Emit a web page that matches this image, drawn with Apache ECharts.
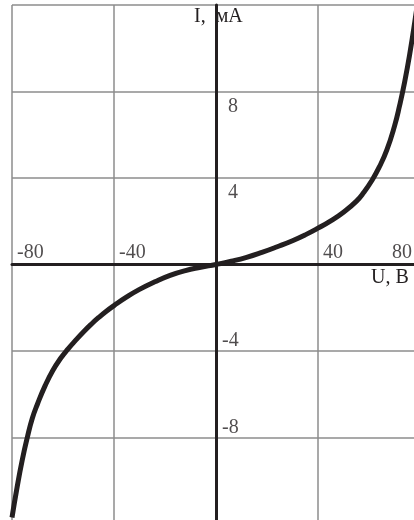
<!DOCTYPE html>
<html>
<head>
<meta charset="utf-8">
<script src="https://cdn.jsdelivr.net/npm/echarts@6/dist/echarts.min.js"></script>
<style>
    html, body { margin: 0; padding: 0; background: #fff; overflow: hidden; }
    /* the picture is a crop: the grid goes a little past the right and bottom edges */
    #chart { width: 420px; height: 524px; }
</style>
</head>
<body>
<div id="chart"></div>
<script>
// вольт-амперная характеристика, U (B) -> I (мА)
var uValues = [-80, -78, -76, -74, -72, -70, -67, -64, -61, -58, -55, -52, -49, -46, -43, -40, -35, -30, -24, -18, -12, -6, 0,
               6, 12, 18, 24, 30, 35, 40, 45, 50, 55, 58, 61, 64, 67, 70, 72, 74, 76, 78, 80];
var iValues = [-11.7, -10.3, -9.05, -8.0, -7.1, -6.45, -5.6, -4.9, -4.35, -3.9, -3.5, -3.12, -2.77, -2.45, -2.16, -1.9, -1.5, -1.15, -0.8, -0.5, -0.28, -0.13, 0,
               0.15, 0.33, 0.56, 0.82, 1.1, 1.37, 1.68, 2.02, 2.42, 2.92, 3.34, 3.86, 4.5, 5.3, 6.4, 7.35, 8.45, 9.75, 11.25, 12.9];
var xTicks = [-80, -40, 40, 80];
var yTicks = [8, 4, -4, -8];

var ink = '#231f20';
var font = 'Liberation Serif';
var grey = '#8c8c8c';

var chart = echarts.init(document.getElementById('chart'));
var points = uValues.map(function (u, i) { return [u, iValues[i]]; });

// подписи делений рисуются как точки без маркера, чтобы стояли у осей
var xLabelData = xTicks.map(function (v) {
    var item = { value: [v, 0] };
    if (v === 80) item.label = { position: [-28, -2] };
    return item;
});
var yLabelData = yTicks.map(function (v) {
    return v > 0
        ? { value: [0, v], label: { position: [12, 5], verticalAlign: 'top' } }
        : { value: [0, v], label: { position: [6, 0], verticalAlign: 'bottom' } };
});

var option = {
    backgroundColor: '#fff',
    animation: false,
    grid: { left: 12, right: 0, top: 5, bottom: 0, containLabel: false },
    xAxis: {
        type: 'value', min: -80, max: 80, interval: 40,
        axisLine: { onZero: true, lineStyle: { color: ink, width: 3 } },
        axisTick: { show: false },
        axisLabel: { show: false },
        splitLine: { show: true, lineStyle: { color: grey, width: 1.5 } }
    },
    yAxis: {
        type: 'value', min: -12, max: 12, interval: 4,
        axisLine: { onZero: true, lineStyle: { color: ink, width: 3 } },
        axisTick: { show: false },
        axisLabel: { show: false },
        splitLine: { show: true, lineStyle: { color: grey, width: 1.5 } }
    },
    graphic: [
        { type: 'text', left: 194, top: 7, style: { text: 'I,  мА', font: '20px "Liberation Serif"', fill: ink } },
        { type: 'text', left: 371, top: 268, style: { text: 'U, B', font: '20px "Liberation Serif"', fill: ink } }
    ],
    series: [{
        type: 'line',
        data: points,
        smooth: 0.5,
        showSymbol: false,
        clip: true,
        z: 3,
        lineStyle: { color: ink, width: 5 }
    }, {
        type: 'scatter',
        data: xLabelData,
        symbolSize: 0,
        silent: true,
        label: {
            show: true, position: [5, -2], align: 'left', verticalAlign: 'bottom',
            color: ink, fontFamily: font, fontSize: 20,
            formatter: function (p) { return String(p.value[0]); }
        }
    }, {
        type: 'scatter',
        data: yLabelData,
        symbolSize: 0,
        silent: true,
        label: {
            show: true, align: 'left',
            color: ink, fontFamily: font, fontSize: 20,
            formatter: function (p) { return String(p.value[1]); }
        }
    }]
};
chart.setOption(option);
</script>
</body>
</html>
